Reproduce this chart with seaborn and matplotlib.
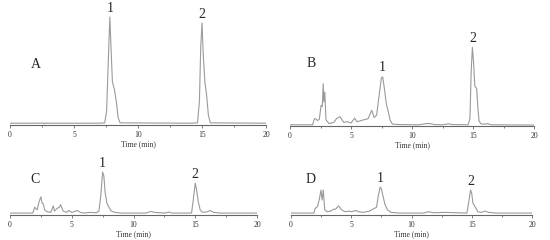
import numpy as np
import pandas as pd
import matplotlib
matplotlib.use("Agg")
import matplotlib.pyplot as plt
import seaborn as sns
from matplotlib.ticker import MultipleLocator

# ---- data ----
tA = [0, 1.5, 2.6, 2.7, 2.8, 2.9, 7.0, 7.4, 7.55, 7.7, 7.8, 7.9, 8.0, 8.15, 8.3, 8.45, 8.6, 14.0, 14.65, 14.8, 14.9, 15.0, 15.1, 15.23, 15.35, 15.5, 15.65, 20]
yA = [1.5, 1.5, 1.6, 1.1, 1.7, 1.5, 1.5, 1.8, 12, 60, 90, 62, 36, 30, 20, 6, 1.8, 1.5, 1.8, 20, 65, 85, 58, 35, 26, 8, 1.8, 1.5]

tB = [0, 1.85, 2.0, 2.1, 2.25, 2.4, 2.55, 2.65, 2.72, 2.78, 2.85, 2.95, 3.2, 3.6, 3.8, 4.1, 4.4, 4.7, 5.0, 5.3, 5.5, 6.0, 6.4, 6.7, 6.9, 7.1, 7.3, 7.5, 7.6, 7.75, 7.9, 8.05, 8.2, 8.4, 9.0, 10.5, 11.2, 11.5, 11.8, 12.5, 13.0, 13.3, 14.6, 14.75, 14.85, 14.95, 15.05, 15.15, 15.3, 15.4, 15.5, 15.65, 16.0, 16.2, 16.5, 20]
yB = [1, 1, 6, 6, 4.5, 5.5, 17, 16, 35, 20, 28, 5, 2, 3, 6, 7.7, 3, 3.5, 2.5, 6.5, 3.5, 5, 6, 13, 7, 9, 25, 40, 40.5, 30, 18, 12, 5, 1.5, 1.2, 1, 2, 2, 1.2, 1, 1.8, 1.2, 1, 6, 45, 65, 52, 33, 31, 15, 4, 1.8, 1.5, 2, 1, 0.8]

tC = [0, 1.85, 2.0, 2.2, 2.35, 2.5, 2.6, 2.7, 2.8, 3.0, 3.3, 3.5, 3.6, 3.8, 4.0, 4.1, 4.3, 4.6, 4.75, 5.0, 5.3, 5.45, 5.7, 6.0, 6.5, 7.0, 7.2, 7.35, 7.5, 7.6, 7.7, 7.85, 8.0, 8.2, 8.5, 9.0, 11.0, 11.4, 11.7, 12.5, 12.9, 13.1, 14.7, 14.85, 15.0, 15.1, 15.25, 15.4, 15.6, 16.0, 16.2, 16.5, 17.0, 20]
yC = [3, 3, 12, 8, 20, 28, 18, 17, 8, 5, 4, 14, 6, 10, 12, 16, 6, 4, 7, 4, 6, 7, 4, 3, 4, 3.5, 6, 30, 66, 60, 35, 18, 12, 6, 4, 3, 3, 5.5, 4, 3, 4.5, 3, 3, 25, 49, 40, 20, 8, 4, 5, 7, 4, 3, 3]

tD = [0, 1.9, 2.0, 2.2, 2.35, 2.49, 2.58, 2.68, 2.8, 3.0, 3.3, 3.55, 3.7, 3.95, 4.2, 4.5, 4.8, 5.0, 5.4, 5.6, 6.0, 6.5, 6.9, 7.1, 7.25, 7.4, 7.5, 7.65, 7.8, 8.0, 8.3, 9.0, 11.0, 11.4, 11.8, 12.8, 14.6, 14.75, 14.9, 15.0, 15.1, 15.3, 15.5, 15.8, 16.1, 16.4, 17.0, 20]
yD = [3, 3, 10, 13, 24, 38.5, 23, 38.5, 8, 5, 6, 9, 9, 14, 8, 5, 6, 5, 7, 5, 4, 6, 10, 12, 30, 43, 40, 28, 16, 8, 4, 3, 3, 5, 3.5, 4, 3, 20, 38.5, 33, 18, 12, 5, 4, 6, 4, 3, 3]

panel_names = ["A", "B", "C", "D"]
peak_labels = ["1", "2"]
peak_label_pos = {  # (time, height) of the numbered peak labels
    "A": [(7.8, 92), (15.0, 87)],
    "B": [(7.6, 43), (14.95, 67)],
    "C": [(7.5, 69), (15.0, 52)],
    "D": [(7.4, 46), (14.9, 41)],
}
letter_pos = {"A": (2.0, 50), "B": (1.7, 52), "C": (2.0, 55), "D": (1.6, 55)}
xlabel = "Time (min)"

df = pd.concat([
    pd.DataFrame({"t": t, "y": y, "panel": p})
    for t, y, p in [(tA, yA, "A"), (tB, yB, "B"), (tC, yC, "C"), (tD, yD, "D")]
])

sns.set_theme(style="white")
plt.rcParams["font.family"] = ["Liberation Serif", "DejaVu Serif"]

fig = plt.figure(figsize=(5.5, 2.4), dpi=100)
W, H = 550, 240
# axes boxes in pixels: (left, right, bottom, top)
boxes = {"A": (10, 266, 125, 5), "B": (290, 534, 126, 5),
         "C": (10, 257, 215, 150), "D": (291, 532, 215, 150)}

for p in panel_names:
    l, r, b, t = boxes[p]
    ax = fig.add_axes([l / W, 1 - b / H, (r - l) / W, (b - t) / H])
    sns.lineplot(data=df[df.panel == p], x="t", y="y", ax=ax,
                 color="#9a9a9a", linewidth=0.8, estimator=None, sort=False)
    ax.set_xlim(0, 20)
    ax.set_ylim(0, 100)
    ax.patch.set_alpha(0)
    for s in ["left", "right", "top"]:
        ax.spines[s].set_visible(False)
    ax.spines["bottom"].set_color("#666666")
    ax.spines["bottom"].set_linewidth(0.8)
    ax.set_yticks([])
    ax.set_ylabel("")
    ax.xaxis.set_major_locator(MultipleLocator(5))
    ax.xaxis.set_minor_locator(MultipleLocator(2.5))
    ax.tick_params(axis="x", which="major", bottom=True, direction="out", length=2.5,
                   width=0.6, color="#666666", labelsize=5.5, pad=1.5, labelcolor="#333333")
    ax.tick_params(axis="x", which="minor", bottom=True, direction="out", length=1.5,
                   width=0.6, color="#666666")
    ax.set_xlabel(xlabel, fontsize=5.5, labelpad=1, color="#333333")
    for lab, (xt, yt) in zip(peak_labels, peak_label_pos[p]):
        ax.text(xt, yt, lab, ha="center", va="bottom", fontsize=10, clip_on=False)
    lx, ly = letter_pos[p]
    ax.text(lx, ly, p, ha="center", va="center", fontsize=10, clip_on=False)

fig.savefig("out.png", dpi=100)
